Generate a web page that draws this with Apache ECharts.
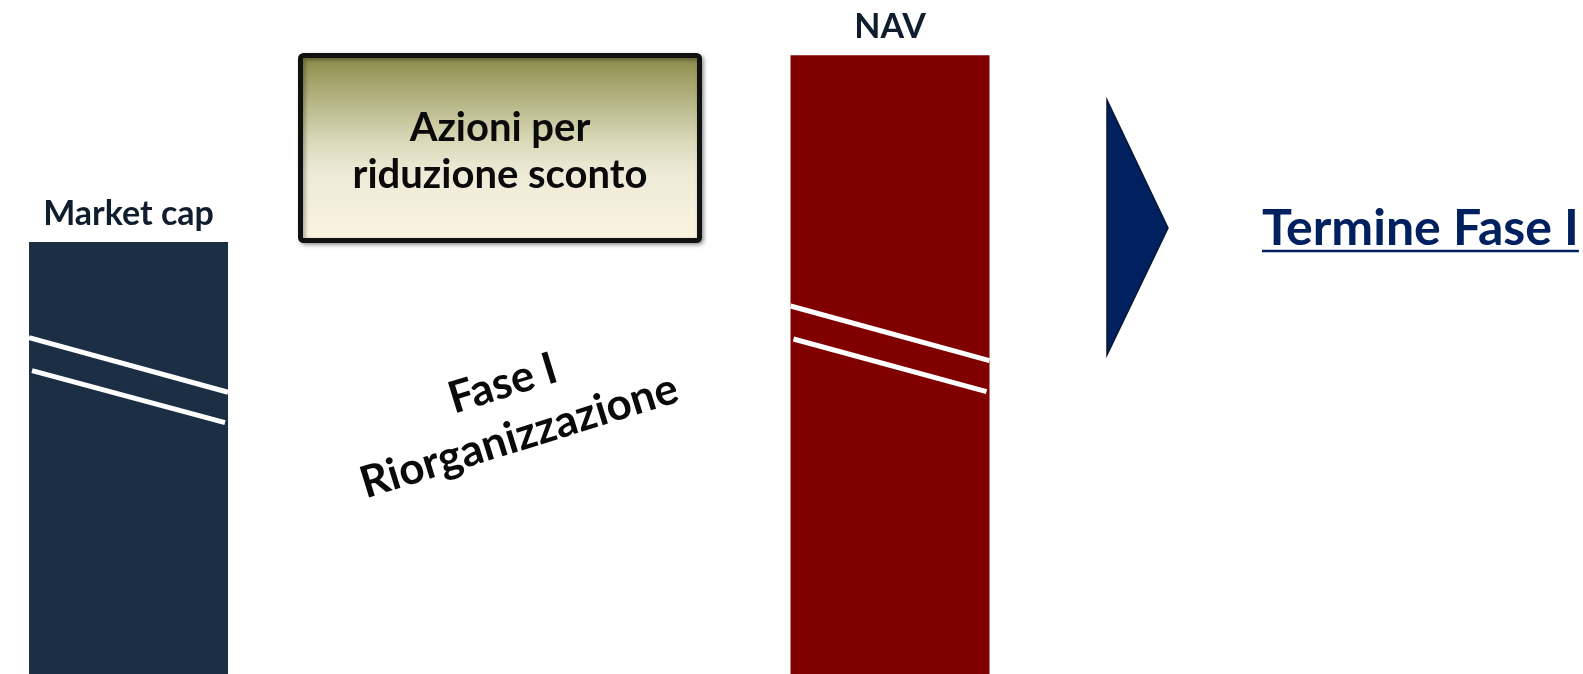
<!DOCTYPE html>
<html>
<head>
<meta charset="utf-8">
<script src="https://cdn.jsdelivr.net/npm/echarts@6/dist/echarts.min.js"></script>
<style>
html,body{margin:0;padding:0;background:#fff;}
#chart{width:1583px;height:674px;}
</style>
</head>
<body>
<div id="chart"></div>
<script>
// ---- data ----
const categories = ['Market cap', '', '', 'NAV', '', ''];
const barValues = [64.1, null, null, 91.8, null, null];
const barColors = ['#1B2E44', null, null, '#800000', null, null];
// break marks: [categoryIndex, value at left edge, value at right edge, inset]
const breakCats = [0, 0, 3, 3];
const breakLeft = [49.9, 45.0, 54.6, 49.7];
const breakRight = [41.8, 37.3, 46.5, 41.9];
const breakInset = [0, 3, 0, 3];
const boxText = 'Azioni per\nriduzione sconto';
const phaseText = 'Fase I\nRiorganizzazione';
const endText = 'Termine Fase I';

const FONT = 'Lato, "Open Sans", sans-serif';
const BAR_W = 199;

const chart = echarts.init(document.getElementById('chart'), null, {renderer: 'canvas'});

const barData = barValues.map((v, i) => v == null ? '-' : {
  value: v,
  itemStyle: {color: barColors[i]}
});
const breakData = breakCats.map((c, i) => [c, breakLeft[i], breakRight[i], breakInset[i]]);

// measure underline width
const mctx = document.createElement('canvas').getContext('2d');
mctx.font = 'bold 50px ' + FONT;
const endW = mctx.measureText(endText).width;

const option = {
  animation: false,
  grid: {left: 1.6, right: 58.4, top: 0, bottom: 0},
  xAxis: {type: 'category', data: categories, show: false},
  yAxis: {type: 'value', min: 0, max: 100, show: false},
  series: [
    {
      type: 'bar',
      data: barData,
      barWidth: BAR_W,
      label: {
        show: true,
        position: 'top',
        distance: 11,
        formatter: '{b}',
        fontFamily: FONT,
        fontWeight: 'bold',
        fontSize: 34,
        color: '#0F1D2C'
      }
    },
    {
      type: 'custom',
      data: breakData,
      z: 5,
      renderItem: function (params, api) {
        const c = api.value(0);
        const pL = api.coord([c, api.value(1)]);
        const pR = api.coord([c, api.value(2)]);
        const inset = api.value(3);
        const x0 = pL[0] - BAR_W / 2 + inset;
        const x1 = pR[0] + BAR_W / 2 - inset;
        return {
          type: 'line',
          shape: {x1: x0, y1: pL[1], x2: x1, y2: pR[1]},
          style: {stroke: '#ffffff', lineWidth: 5}
        };
      }
    }
  ],
  graphic: [
    {
      type: 'rect',
      shape: {x: 300.5, y: 55.5, width: 399, height: 185, r: 3},
      style: {
        fill: new echarts.graphic.LinearGradient(0, 0, 0, 1, [
          {offset: 0, color: '#8A8945'},
          {offset: 0.45, color: '#D8D7B6'},
          {offset: 0.62, color: '#ECEAD6'},
          {offset: 1, color: '#FCF4E2'}
        ]),
        stroke: '#111111',
        lineWidth: 5,
        shadowBlur: 4,
        shadowOffsetX: 2,
        shadowOffsetY: 2,
        shadowColor: 'rgba(0,0,0,0.35)'
      }
    },
    {
      type: 'text',
      style: {
        text: boxText,
        x: 500, y: 152,
        textAlign: 'center', textVerticalAlign: 'middle',
        font: 'bold 40px ' + FONT,
        lineHeight: 47,
        fill: '#0A0A0A'
      }
    },
    {
      type: 'text',
      x: 511, y: 410,
      rotation: 17.2 * Math.PI / 180,
      style: {
        text: phaseText,
        x: 0, y: 0,
        textAlign: 'center', textVerticalAlign: 'middle',
        font: 'bold 44px ' + FONT,
        lineHeight: 55,
        fill: '#0A0A0A'
      }
    },
    {
      type: 'polygon',
      shape: {points: [[1107, 100], [1168, 228], [1107, 355]]},
      style: {fill: '#002060', stroke: '#0B1630', lineWidth: 1.5}
    },
    {
      type: 'text',
      style: {
        text: endText,
        x: 1262, y: 229,
        textAlign: 'left', textVerticalAlign: 'middle',
        font: 'bold 50px ' + FONT,
        fill: '#002060'
      }
    },
    {
      type: 'line',
      shape: {x1: 1262, y1: 251, x2: 1262 + endW, y2: 251},
      style: {stroke: '#002060', lineWidth: 2.5}
    }
  ]
};
chart.setOption(option);
</script>
</body>
</html>
